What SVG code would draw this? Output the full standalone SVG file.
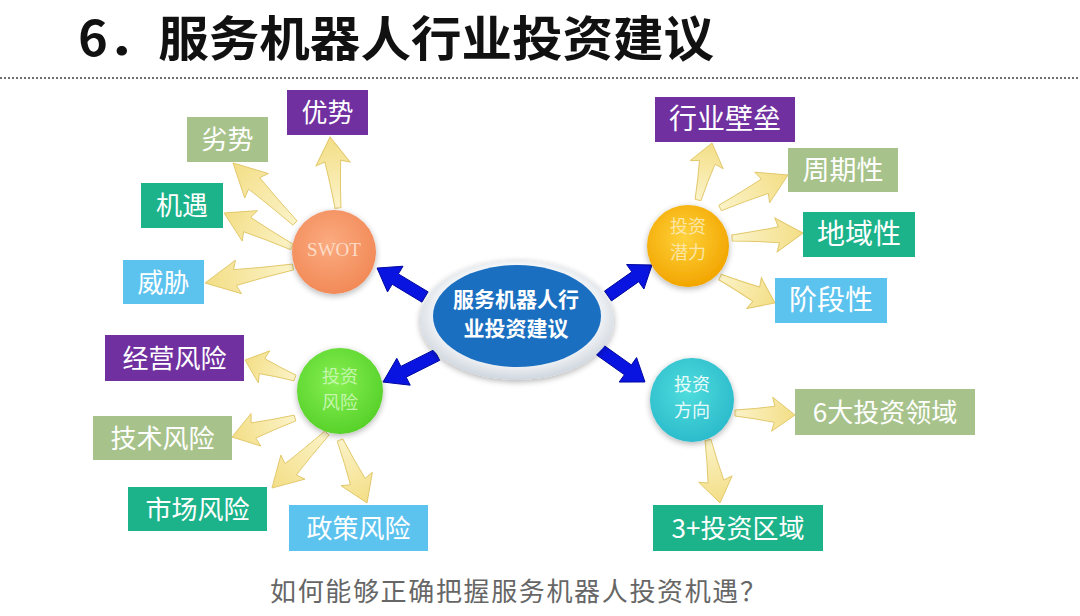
<svg xmlns="http://www.w3.org/2000/svg" xmlns:xlink="http://www.w3.org/1999/xlink" width="1080" height="616" viewBox="0 0 1080 616">
<defs>
<style>
.t{font-family:"Noto Sans CJK SC","Liberation Sans",sans-serif;}
.bx{fill:#ffffff;font-size:26px;text-anchor:middle;font-family:"Noto Sans CJK SC","Liberation Sans",sans-serif;}
.ct{font-size:18px;text-anchor:middle;font-family:"Noto Sans CJK SC","Liberation Sans",sans-serif;}
.pu{fill:#7030a0;}
.lg{fill:#a7c38b;}
.tg{fill:#1cb38b;}
.lb{fill:#5cc3ef;}
.ya{fill:url(#yg);stroke:#e2c86a;stroke-width:1;}
.ba{fill:#0a14e0;stroke:#0008a0;stroke-width:1;}
</style>
<linearGradient id="yg" x1="0" y1="0" x2="1" y2="0">
<stop offset="0" stop-color="#fbf3c8"/>
<stop offset="1" stop-color="#f3de86"/>
</linearGradient>
<radialGradient id="gOr" cx="0.45" cy="0.4" r="0.6">
<stop offset="0" stop-color="#fbab80"/><stop offset="1" stop-color="#f28a58"/>
</radialGradient>
<radialGradient id="gGo" cx="0.45" cy="0.4" r="0.6">
<stop offset="0" stop-color="#ffd23c"/><stop offset="1" stop-color="#f2a600"/>
</radialGradient>
<radialGradient id="gGr" cx="0.45" cy="0.4" r="0.6">
<stop offset="0" stop-color="#86f052"/><stop offset="1" stop-color="#58d22a"/>
</radialGradient>
<radialGradient id="gCy" cx="0.45" cy="0.4" r="0.6">
<stop offset="0" stop-color="#4fdcdc"/><stop offset="1" stop-color="#2cbccc"/>
</radialGradient>
<radialGradient id="gRing" cx="0.5" cy="0.45" r="0.55">
<stop offset="0.75" stop-color="#f4f6f8"/><stop offset="1" stop-color="#cfd6de"/>
</radialGradient>
<filter id="sh" x="-30%" y="-30%" width="160%" height="160%">
<feGaussianBlur in="SourceAlpha" stdDeviation="3"/>
<feOffset dx="0" dy="2"/>
<feComponentTransfer><feFuncA type="linear" slope="0.3"/></feComponentTransfer>
<feMerge><feMergeNode/><feMergeNode in="SourceGraphic"/></feMerge>
</filter>
<path id="yArrow" vector-effect="non-scaling-stroke" d="M0,-3 Q36,-5 66,-8 L62,-17 L100,0 L62,17 L66,8 Q36,5 0,3 Z"/>
<path id="bArrow" vector-effect="non-scaling-stroke" d="M0,-6 L62,-6 L62,-15 L100,0 L62,15 L62,6 L0,6 Z"/>
</defs>
<rect width="1080" height="616" fill="#ffffff"/>

<g id="title">
<text class="t" x="78" y="56" font-size="48" font-weight="bold" fill="#111111" textLength="636" lengthAdjust="spacingAndGlyphs">6．服务机器人行业投资建议</text>
<line x1="0" y1="78" x2="1080" y2="78" stroke="#6e6e6e" stroke-width="2" stroke-dasharray="2,2"/>
</g>

<g id="connectors">
<use xlink:href="#yArrow" class="ya" transform="translate(338,208) rotate(-96.4) scale(0.715,1)"/>
<use xlink:href="#yArrow" class="ya" transform="translate(295,223) rotate(-135.9) scale(0.863,1)"/>
<use xlink:href="#yArrow" class="ya" transform="translate(292,247) rotate(-153.4) scale(0.76,1)"/>
<use xlink:href="#yArrow" class="ya" transform="translate(293,267) rotate(169.7) scale(0.894,1)"/>
<use xlink:href="#yArrow" class="ya" transform="translate(698,200) rotate(-76.2) scale(0.587,1)"/>
<use xlink:href="#yArrow" class="ya" transform="translate(720,208) rotate(-25.9) scale(0.756,1)"/>
<use xlink:href="#yArrow" class="ya" transform="translate(732,238) rotate(-4) scale(0.712,1)"/>
<use xlink:href="#yArrow" class="ya" transform="translate(720,277) rotate(25.3) scale(0.608,1)"/>
<use xlink:href="#yArrow" class="ya" transform="translate(295,378) rotate(-160.2) scale(0.531,1)"/>
<use xlink:href="#yArrow" class="ya" transform="translate(295,418) rotate(163.2) scale(0.658,1)"/>
<use xlink:href="#yArrow" class="ya" transform="translate(327,433) rotate(135) scale(0.778,1)"/>
<use xlink:href="#yArrow" class="ya" transform="translate(340,440) rotate(66.8) scale(0.685,1)"/>
<use xlink:href="#yArrow" class="ya" transform="translate(735,413) rotate(1.9) scale(0.60,1)"/>
<use xlink:href="#yArrow" class="ya" transform="translate(708,440) rotate(79.2) scale(0.641,1)"/>
<use xlink:href="#bArrow" class="ba" transform="translate(425,297) rotate(-148.9) scale(0.56,1)"/>
<use xlink:href="#bArrow" class="ba" transform="translate(437,355) rotate(153.4) scale(0.604,1)"/>
<use xlink:href="#bArrow" class="ba" transform="translate(608,296) rotate(-35.2) scale(0.538,1)"/>
<use xlink:href="#bArrow" class="ba" transform="translate(600,350) rotate(35.4) scale(0.552,1)"/>
</g>

<g id="center">
<ellipse cx="517" cy="320" rx="97" ry="60" fill="url(#gRing)" filter="url(#sh)"/>
<ellipse cx="517" cy="316" rx="84" ry="51" fill="#1b6fc0"/>
<text class="t" x="516" y="307" font-size="21" font-weight="bold" fill="#ffffff" text-anchor="middle">服务机器人行</text>
<text class="t" x="516" y="336" font-size="21" font-weight="bold" fill="#ffffff" text-anchor="middle">业投资建议</text>
</g>

<g id="swot">
<circle cx="334" cy="252" r="42" fill="url(#gOr)" filter="url(#sh)"/>
<text x="334" y="256" font-family="Liberation Serif,serif" font-size="19" fill="#fddcc6" text-anchor="middle">SWOT</text>
</g>
<g id="potential">
<circle cx="688" cy="246" r="41" fill="url(#gGo)" filter="url(#sh)"/>
<text class="ct" x="688" y="233" fill="#fbe6a6">投资</text>
<text class="ct" x="688" y="259" fill="#fbe6a6">潜力</text>
</g>
<g id="risk">
<circle cx="340" cy="391" r="43" fill="url(#gGr)" filter="url(#sh)"/>
<text class="ct" x="340" y="383" fill="#c4f6ac">投资</text>
<text class="ct" x="340" y="409" fill="#c4f6ac">风险</text>
</g>
<g id="direction">
<circle cx="692" cy="400" r="42" fill="url(#gCy)" filter="url(#sh)"/>
<text class="ct" x="692" y="391" fill="#e8fbfb">投资</text>
<text class="ct" x="692" y="417" fill="#e8fbfb">方向</text>
</g>

<g id="n-youshi"><rect class="pu" x="287" y="90" width="81" height="45"/><text class="bx" x="327.5" y="122">优势</text></g>
<g id="n-lieshi"><rect class="lg" x="187" y="117" width="81" height="45"/><text class="bx" x="227.5" y="149">劣势</text></g>
<g id="n-jiyu"><rect class="tg" x="141" y="183" width="82" height="45"/><text class="bx" x="182" y="215">机遇</text></g>
<g id="n-weixie"><rect class="lb" x="123" y="260" width="81" height="44"/><text class="bx" x="163.5" y="292">威胁</text></g>

<g id="n-bilei"><rect class="pu" x="655" y="97" width="140" height="45"/><text class="bx" x="725" y="129" style="font-size:28px">行业壁垒</text></g>
<g id="n-zhouqi"><rect class="lg" x="788" y="148" width="110" height="44"/><text class="bx" x="843" y="180" style="font-size:27px">周期性</text></g>
<g id="n-diyu"><rect class="tg" x="803" y="212" width="112" height="45"/><text class="bx" x="859" y="244" style="font-size:28px">地域性</text></g>
<g id="n-jieduan"><rect class="lb" x="775" y="278" width="112" height="45"/><text class="bx" x="831" y="310" style="font-size:28px">阶段性</text></g>

<g id="n-jingying"><rect class="pu" x="105" y="335" width="139" height="46"/><text class="bx" x="174.5" y="368">经营风险</text></g>
<g id="n-jishu"><rect class="lg" x="93" y="416" width="139" height="44"/><text class="bx" x="162.5" y="448">技术风险</text></g>
<g id="n-shichang"><rect class="tg" x="128" y="487" width="139" height="44"/><text class="bx" x="197.5" y="519">市场风险</text></g>
<g id="n-zhengce"><rect class="lb" x="289" y="505" width="139" height="46"/><text class="bx" x="358.5" y="538">政策风险</text></g>

<g id="n-lingyu"><rect class="lg" x="795" y="389" width="180" height="46"/><text class="bx" x="885" y="422">6大投资领域</text></g>
<g id="n-quyu"><rect class="tg" x="653" y="505" width="170" height="46"/><text class="bx" x="738" y="538">3+投资区域</text></g>

<g id="question">
<text class="t" x="270" y="601" font-size="26" fill="#666666" textLength="496" lengthAdjust="spacing">如何能够正确把握服务机器人投资机遇？</text>
</g>
</svg>
